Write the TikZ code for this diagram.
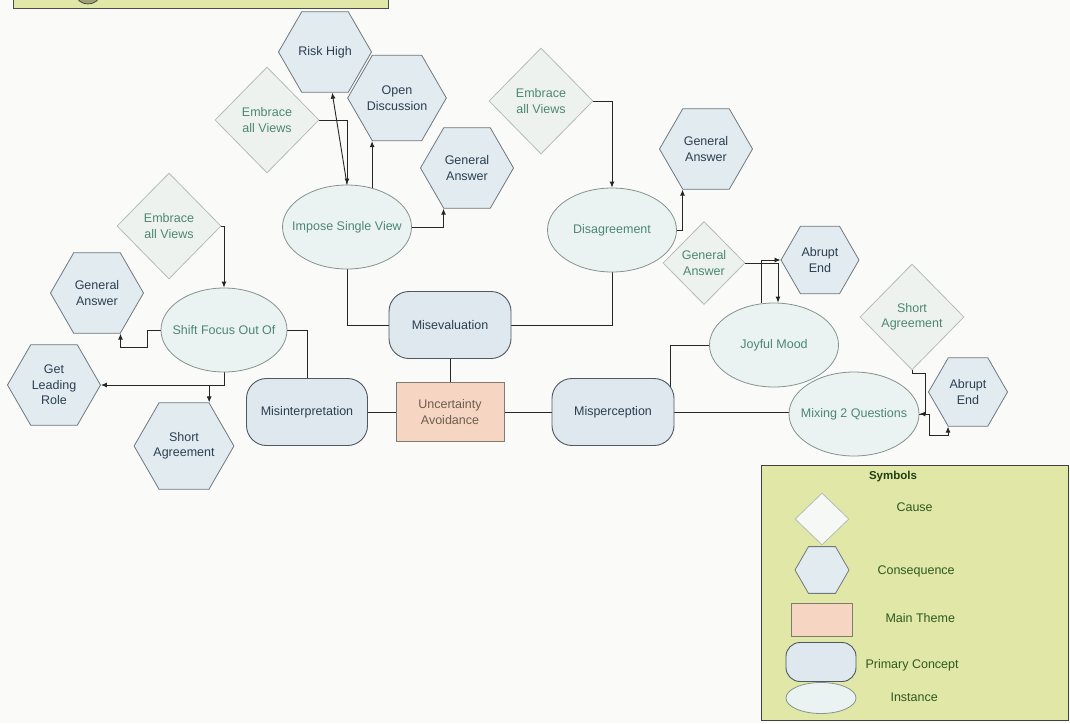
\documentclass[tikz,border=0pt]{standalone}
\usepackage{fontspec}
\setmainfont{Liberation Sans}
\usepackage{tikz}
\usetikzlibrary{shapes.geometric, arrows.meta, calc}
\pgfdeclarelayer{bg}
\pgfsetlayers{bg,main}
\definecolor{pagec}{HTML}{FAFAF8}
\definecolor{hexfill}{HTML}{E2EBF0}
\definecolor{hexline}{HTML}{6E787E}
\definecolor{hextext}{HTML}{2B3F52}
\definecolor{diafill}{HTML}{EEF2EE}
\definecolor{dialine}{HTML}{B4BCB6}
\definecolor{ellfill}{HTML}{EBF2F2}
\definecolor{ellline}{HTML}{85938F}
\definecolor{insttext}{HTML}{4C8776}
\definecolor{primfill}{HTML}{DFE8EE}
\definecolor{primline}{HTML}{4E585E}
\definecolor{themefill}{HTML}{F6D6C2}
\definecolor{themeline}{HTML}{7C7C72}
\definecolor{themetext}{HTML}{6A5E50}
\definecolor{legfill}{HTML}{E1E7A6}
\definecolor{legtext}{HTML}{2E5A20}

\begin{document}
\begin{tikzpicture}[x=1pt, y=-1pt, font=\fontsize{12.5}{15.5}\selectfont,
    cons/.style={regular polygon, regular polygon sides=6, minimum size=93pt, inner sep=0pt,
      draw=hexline, fill=hexfill, text=hextext, align=center, line width=0.8pt},
    cause/.style={diamond, minimum width=104pt, minimum height=106pt, inner sep=0pt,
      draw=dialine, fill=diafill, text=insttext, align=center, line width=0.8pt},
    inst/.style={ellipse, minimum width=129pt, minimum height=84pt, inner xsep=-15pt, inner ysep=0pt,
      draw=ellline, fill=ellfill, text=insttext, line width=0.8pt},
    prim/.style={rectangle, rounded corners=20pt, minimum width=122pt, minimum height=67pt,
      draw=primline, fill=primfill, text=hextext, line width=0.9pt},
    theme/.style={rectangle, minimum width=108pt, minimum height=59pt,
      draw=themeline, fill=themefill, text=themetext, align=center, line width=0.8pt},
    legitem/.style={text=legtext, anchor=west},
    link/.style={line width=0.9pt, draw=black!85},
    arr/.style={-{Latex[length=6pt,width=5pt]}}]
  \useasboundingbox (0,0) rectangle (1070,723);
  \begin{pgfonlayer}{bg}
    \fill[pagec] (0,0) rectangle (1070,723);
  \end{pgfonlayer}
  \fill[legfill] (13,-1) rectangle (388,8);
  \begin{scope}
    \clip (13,-1) rectangle (388,8);
    \draw[line width=0.8pt, black!70, fill=legfill!70!black] (88,-6) ellipse (12 and 10);
  \end{scope}
  \draw[line width=0.9pt, black!70] (13,-1) |- (388,8) -- (388,-1);

  \node[cons] (RH) at (325,52) {Risk High};
  \node[cons] (OD) at (397,98) {Open\\Discussion};
  \node[cons] (GA1) at (467,168) {General\\Answer};
  \node[cons] (GA2) at (706,149) {General\\Answer};
  \node[cons, minimum size=78pt] (AE1) at (820,260) {Abrupt\\End};
  \node[cons, minimum size=79pt] (AE2) at (968,392) {Abrupt\\End};
  \node[cons] (GA3) at (97,293) {General\\Answer};
  \node[cons] (GLR) at (54,385) {Get\\Leading\\Role};
  \node[cons] (SA) at (184,446) {Short\\Agreement};

  \node[cause] (EV1) at (267,120) {Embrace\\all Views};
  \node[cause] (EV2) at (169,226) {Embrace\\all Views};
  \node[cause] (EV3) at (541,101) {Embrace\\all Views};
  \node[cause, minimum width=82pt, minimum height=83pt] (GAd) at (704,263) {General\\Answer};
  \node[cause] (SAd) at (912,317) {Short\\Agreement};

  \node[inst] (ISV) at (347,227) {Impose Single View};
  \node[inst] (DIS) at (612,230) {Disagreement};
  \node[inst, minimum width=126pt] (SFO) at (224,330) {Shift Focus Out Of};
  \node[inst] (JM) at (774,345) {Joyful Mood};
  \node[inst, minimum width=130pt] (M2Q) at (854,414) {Mixing 2 Questions};

  \node[prim] (MEV) at (450,325) {Misevaluation};
  \node[prim, minimum width=121pt] (MIN) at (307,412) {Misinterpretation};
  \node[prim] (MPC) at (613,412) {Misperception};
  \node[theme] (UA) at (450,412) {Uncertainty\\Avoidance};

  \begin{pgfonlayer}{bg}
    \draw[link,arr] (EV1.east) -| (ISV.north);
    \draw[link,arr] (ISV.north) -- (RH.-80);
    \draw[link,arr] (OD.-120 |- ISV.center) -- (OD.-120);
    \draw[link,arr] (ISV.east) -| (GA1.-120);
    \draw[link,arr] (EV2.east) -| (SFO.north);
    \draw[link,arr] (SFO.west) -- ++(-13,0) -- ++(0,17) -| (GA3.-60);
    \draw[link,arr] (SFO.south) |- (GLR.east);
    \draw[link,arr] (SA.60 |- GLR.east) -- (SA.60);
    \draw[link] (SFO.east) -| (MIN.north);
    \draw[link] (MIN.east) -- (UA.west);
    \draw[link] (MEV.south) -- (UA.north);
    \draw[link] (MEV.west) -| (ISV.south);
    \draw[link] (MEV.east) -| (DIS.south);
    \draw[link] (UA.east) -- (MPC.west);
    \draw[link] ([xshift=-4pt]MPC.east) |- (JM.west);
    \draw[link] (MPC.east) -- (MPC.east -| M2Q.west);
    \draw[link,arr] (EV3.east) -| (DIS.north);
    \draw[link,arr] (DIS.east) -| (GA2.-120);
    \draw[link,arr] (GAd.east) -| ([xshift=4pt]JM.north);
    \draw[link,arr] ([xshift=-13pt]JM.north) |- (AE1.west);
    \draw[link,arr] (SAd.south) -- ++(0,3) -| ([xshift=6pt]M2Q.east) -- (M2Q.east);
    \draw[link,arr] (M2Q.east) -- ++(10,0) |- ([yshift=-9pt]AE2.-120) -- (AE2.-120);
  \end{pgfonlayer}

  \node[draw=black!75, fill=legfill, line width=0.9pt, minimum width=307pt, minimum height=255pt,
    anchor=north west] (LG) at (761,465) {};
  \node[text=legtext!70!black, font=\bfseries\fontsize{11.5}{13}\selectfont] (LGt) at (893,477) {Symbols};
  \node[cause, minimum width=54pt, minimum height=52pt, fill=diafill!50!white] (kC) at (822,519) {};
  \node[cons, minimum size=54pt] (kS) at (822,570) {};
  \node[theme, minimum width=61pt, minimum height=33pt] (kM) at (822,620) {};
  \node[prim, rounded corners=14pt, minimum width=70pt, minimum height=39pt] (kP) at (821,662) {};
  \node[inst, inner xsep=0pt, minimum width=70pt, minimum height=31pt] (kI) at (821,698) {};
  \node[legitem] (lC) at (893,507) {Cause};
  \node[legitem] (lS) at (874,571) {Consequence};
  \node[legitem] (lM) at (882,618) {Main Theme};
  \node[legitem] (lP) at (862,665) {Primary Concept};
  \node[legitem] (lI) at (887,697) {Instance};
\end{tikzpicture}
\end{document}
